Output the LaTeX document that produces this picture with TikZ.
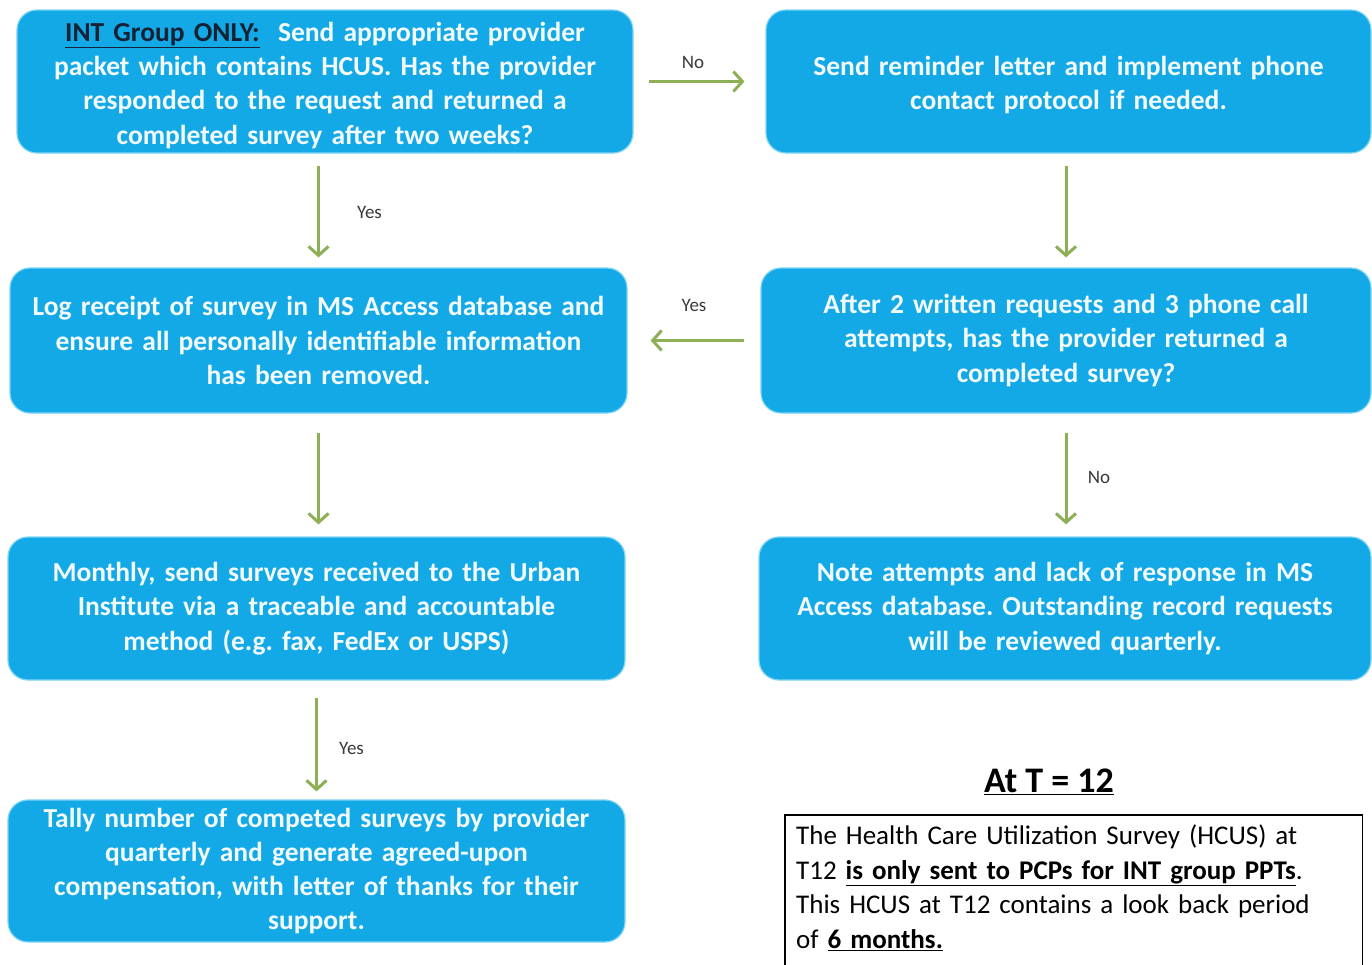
\documentclass[tikz,border=0pt]{standalone}
\usepackage{fontspec}
\setmainfont{Carlito}
\usetikzlibrary{arrows.meta,calc}
\frenchspacing

\definecolor{boxblue}{HTML}{12A9E6}
\definecolor{boxedge}{HTML}{7FD3F5}
\definecolor{boxtext}{HTML}{F2FAFE}
\definecolor{flowgreen}{HTML}{8DAF55}
\definecolor{lbltext}{HTML}{3A3A3A}
\definecolor{navy}{HTML}{152235}

\tikzset{
  stepbox/.style={rectangle, rounded corners=20pt, fill=boxblue, draw=boxedge,
    line width=1.2pt, align=center, text=boxtext, inner sep=0pt,
    font=\fontsize{27.5}{34.3}\selectfont\bfseries},
  flow/.style={draw=flowgreen, line width=3pt,
    -{Straight Barb[length=9pt,width=20pt,line width=3pt]}},
  lbl/.style={text=lbltext, font=\fontsize{19}{21}\selectfont, inner sep=0pt},
}

\begin{document}
\begin{tikzpicture}[x=1pt,y=-1pt]
\useasboundingbox (0,0) rectangle (1372,964);
\clip (0,0) rectangle (1372,964);
\fill[white] (0,0) rectangle (1372,964);

% process boxes
\node[stepbox, minimum width=616pt, minimum height=143pt, text width=600pt] (b1) at (325,81.5)
  {\rule{0pt}{27pt}{\color{navy}\underline{INT Group ONLY:}}\ \ Send appropriate provider\\
   packet which contains HCUS. Has the provider\\
   responded to the request and returned a\\
   completed survey after two weeks?};
\node[stepbox, minimum width=605pt, minimum height=143pt, text width=590pt] (b2) at (1068.5,81.5)
  {\rule{0pt}{27pt}Send reminder letter and implement phone\\contact protocol if needed.};
\node[stepbox, minimum width=617pt, minimum height=145pt, text width=600pt] (b3) at (318.5,340.5)
  {Log receipt of survey in MS Access database and\\
   ensure all personally identifiable information\\
   has been removed.};
\node[stepbox, minimum width=610pt, minimum height=145pt, text width=595pt] (b4) at (1066,340.5)
  {After 2 written requests and 3 phone call\\
   attempts, has the provider returned a\\
   completed survey?};
\node[stepbox, minimum width=617pt, minimum height=143pt, text width=600pt] (b5) at (316.5,608.5)
  {Monthly, send surveys received to the Urban\\
   Institute via a traceable and accountable\\
   method (e.g. fax, FedEx or USPS)};
\node[stepbox, minimum width=612pt, minimum height=143pt, text width=596pt] (b6) at (1065,608.5)
  {Note attempts and lack of response in MS\\
   Access database. Outstanding record requests\\
   will be reviewed quarterly.};
\node[stepbox, minimum width=617pt, minimum height=142pt, text width=600pt] (b7) at (316.5,871)
  {Tally number of competed surveys by provider\\
   quarterly and generate agreed-upon\\
   compensation, with letter of thanks for their\\
   support.};

% connectors
\draw[flow, shorten <=15pt, shorten >=21pt] (b1.east |- b2.west) -- (b2.west)
  node[lbl, pos=0.45, yshift=19pt] {No};
\draw[flow, shorten <=12pt, shorten >=10pt] (b3.north |- b1.south) -- (b3.north)
  node[lbl, midway, xshift=51pt, yshift=-2pt] {Yes};
\draw[flow, shorten <=12pt, shorten >=10pt] (b4.north |- b2.south) -- (b4.north);
\draw[flow, shorten <=16pt, shorten >=23pt] (b4.west) -- (b3.east |- b4.west)
  node[lbl, midway, yshift=35pt] {Yes};
\draw[flow, shorten <=19pt, shorten >=12pt] (b3.south) -- (b3.south |- b5.north);
\draw[flow, shorten <=19pt, shorten >=12pt] (b4.south) -- (b4.south |- b6.north)
  node[lbl, midway, xshift=33pt, yshift=-2pt] {No};
\draw[flow, shorten <=17pt, shorten >=8pt] (b5.south) -- (b5.south |- b7.north)
  node[lbl, midway, xshift=35pt, yshift=-8pt] {Yes};

% T = 12 note, its frame running on past the lower edge
\node[font=\fontsize{36}{40}\selectfont\bfseries, inner sep=0pt] (ttl) at (1049,782)
  {\underline{At T = 12}};
\node[rectangle, anchor=north west, minimum width=575pt,
  text width=555pt, align=left, inner xsep=11pt, inner ysep=10pt,
  font=\fontsize{27}{34.4}\selectfont] (note) at (785,815)
  {The Health Care Utilization Survey (HCUS) at\\
   T12 \textbf{\underline{is only sent to PCPs for INT group PPTs}}.\\
   This HCUS at T12 contains a look back period\\
   of \textbf{\underline{6 months.}}};
\draw[black, line width=1.3pt] (note.south west) ++(0,-30pt) |- (note.north east) -- ++(0,-180pt);
\end{tikzpicture}
\end{document}
